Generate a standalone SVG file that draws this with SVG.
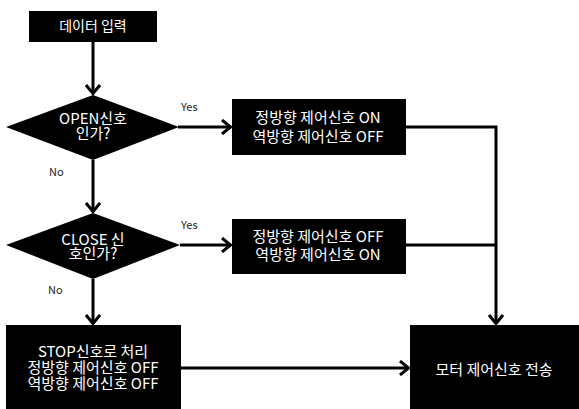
<svg xmlns="http://www.w3.org/2000/svg" width="579" height="409" viewBox="0 0 579 409">
<defs>
<style>
.n{fill:#000;}
.t{fill:#fff;font-family:"Noto Sans CJK KR","Noto Sans",sans-serif;font-size:15px;text-anchor:middle;}
.l{fill:#222;font-family:"Noto Sans CJK KR","Noto Sans",sans-serif;font-size:11px;}
.c{fill:none;stroke:#000;stroke-width:3;}
</style>
<marker id="a" viewBox="0 0 12 16" refX="11" refY="8" markerWidth="12" markerHeight="16" markerUnits="userSpaceOnUse" orient="auto">
<path d="M2,1 L10.5,8 L2,15" fill="none" stroke="#000" stroke-width="3"/>
</marker>
</defs>
<rect width="579" height="409" fill="#fff"/>
<g id="connectors">
<line class="c" x1="93" y1="42" x2="93" y2="94" marker-end="url(#a)"/>
<line class="c" x1="178" y1="127" x2="231" y2="127" marker-end="url(#a)"/>
<line class="c" x1="93" y1="160" x2="93" y2="212" marker-end="url(#a)"/>
<line class="c" x1="180" y1="245" x2="231" y2="245" marker-end="url(#a)"/>
<line class="c" x1="93" y1="279" x2="93" y2="324" marker-end="url(#a)"/>
<polyline class="c" points="406,127 496,127 496,324" marker-end="url(#a)"/>
<line class="c" x1="406" y1="245" x2="496" y2="245"/>
<line class="c" x1="181" y1="368" x2="409" y2="368" marker-end="url(#a)"/>
<text class="l" x="181" y="111">Yes</text>
<text class="l" x="49" y="176">No</text>
<text class="l" x="181" y="229">Yes</text>
<text class="l" x="48" y="294">No</text>
</g>
<g id="start">
<rect class="n" x="29" y="11" width="128" height="31"/>
<text class="t" x="93" y="31" style="font-size:14px">데이터 입력</text>
</g>
<g id="open">
<polygon class="n" points="93,95 179,127 93,160 6,127"/>
<text class="t" x="93" y="124">OPEN신호</text>
<text class="t" x="93" y="139">인가?</text>
</g>
<g id="box1">
<rect class="n" x="232" y="99" width="174" height="56"/>
<text class="t" x="318" y="123">정방향 제어신호 ON</text>
<text class="t" x="318" y="142">역방향 제어신호 OFF</text>
</g>
<g id="close">
<polygon class="n" points="93,213 180,245 93,279 6,245"/>
<text class="t" x="93" y="245">CLOSE 신</text>
<text class="t" x="93" y="259">호인가?</text>
</g>
<g id="box2">
<rect class="n" x="232" y="219" width="174" height="55"/>
<text class="t" x="318" y="242">정방향 제어신호 OFF</text>
<text class="t" x="318" y="260">역방향 제어신호 ON</text>
</g>
<g id="stop">
<rect class="n" x="6" y="325" width="175" height="84"/>
<text class="t" x="93" y="357">STOP신호로 처리</text>
<text class="t" x="93" y="373">정방향 제어신호 OFF</text>
<text class="t" x="93" y="389">역방향 제어신호 OFF</text>
</g>
<g id="send">
<rect class="n" x="410" y="325" width="169" height="84"/>
<text class="t" x="494" y="375">모터 제어신호 전송</text>
</g>
</svg>
